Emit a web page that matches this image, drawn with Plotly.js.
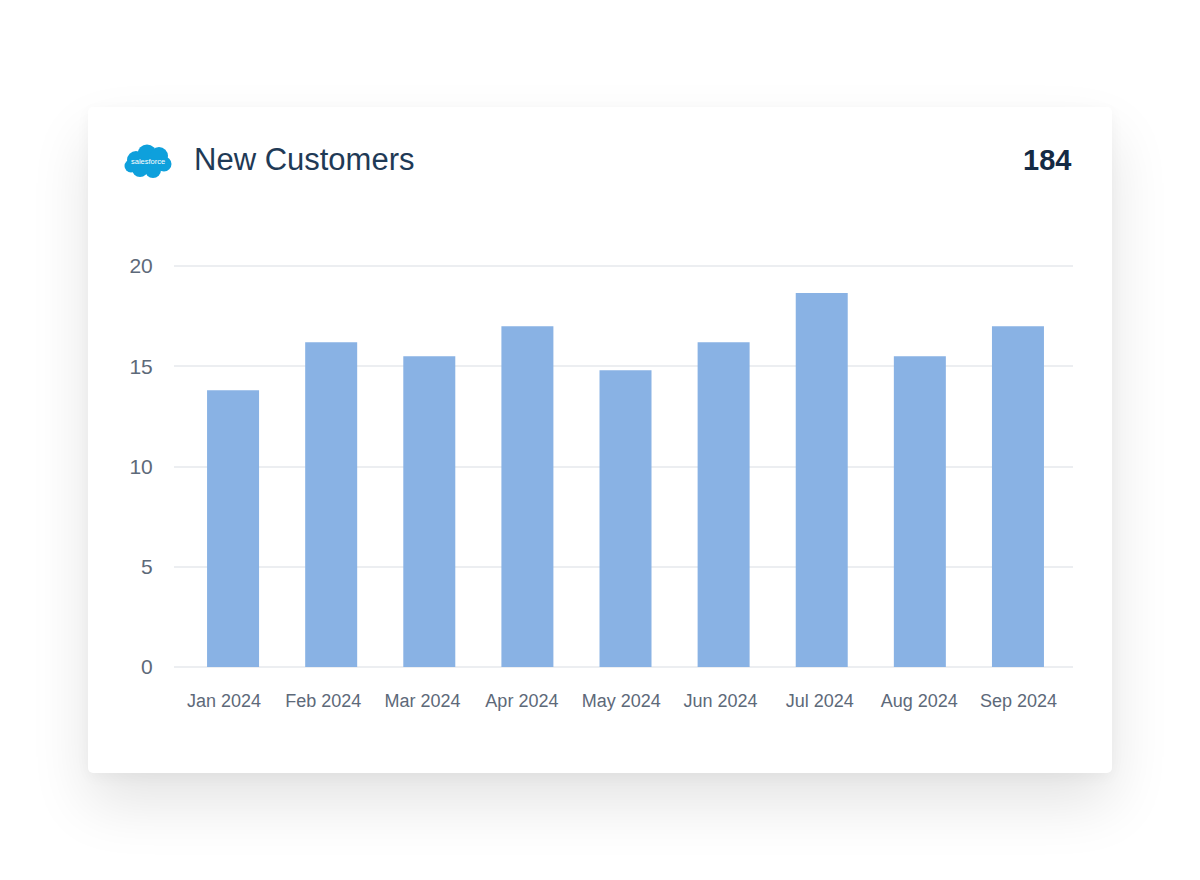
<!DOCTYPE html>
<html>
<head>
<meta charset="utf-8">
<script src="https://cdn.plot.ly/plotly-3.0.1.min.js"></script>
<style>
  html, body { margin:0; padding:0; background:#ffffff; }
  #card {
    position:absolute; left:88px; top:107px; width:1024px; height:666px;
    background:#ffffff; border-radius:5px;
    box-shadow: 0 30px 60px rgba(0,0,0,0.11), 0 4px 14px rgba(0,0,0,0.04);
  }
  #chart { position:absolute; left:0; top:0; width:1200px; height:880px; }
</style>
</head>
<body>
<div id="card"></div>
<div id="chart"></div>
<script>
// data
var months = ['Jan 2024','Feb 2024','Mar 2024','Apr 2024','May 2024','Jun 2024','Jul 2024','Aug 2024','Sep 2024']
var customers = [13.8, 16.2, 15.5, 17.0, 14.8, 16.2, 18.65, 15.5, 17.0]
var total_label = '184'
var y_ticks = [0, 5, 10, 15, 20]

// plot box in page pixels (top sits a bit above the 20 line so that line is drawn)
var L=174, R=1073, T=258, B=667
function px(x){ return (x-L)/(R-L) }
function py(y){ return (B-y)/(B-T) }

var bar_color = '#89b2e4'
var text_dark = '#1f3a56'
var tick_color = '#5d6979'
var grid_color = '#eceef1'

var trace = {
  x: months,
  y: customers,
  type: 'bar',
  marker: {color: bar_color},
  hoverinfo: 'x+y'
}

// label-only axis, the labels sit on a slightly wider spacing than the bars
var labels_trace = {
  x: months,
  y: customers,
  xaxis: 'x2',
  type: 'scatter',
  mode: 'none',
  hoverinfo: 'skip'
}

// salesforce cloud made of circles
var cloud = [[136,160,9],[147,154,9.5],[159,156,9],[164,164,7.5],[153,170,8],[140,169,8],[131,166,6.5]]
var shapes = cloud.map(function(c){
  return {
    type:'circle', xref:'paper', yref:'paper', layer:'above',
    x0:px(c[0]-c[2]), x1:px(c[0]+c[2]), y0:py(c[1]+c[2]), y1:py(c[1]-c[2]),
    fillcolor:'#0ea0dc', line:{width:0}
  }
})
shapes.push({
  type:'rect', xref:'paper', yref:'paper', layer:'above',
  x0:px(133), x1:px(160), y0:py(170), y1:py(154),
  fillcolor:'#0ea0dc', line:{width:0}
})

var annotations = [
  {text:'salesforce', x:px(147.5), y:py(161.5), xref:'paper', yref:'paper', xanchor:'center', yanchor:'middle',
   showarrow:false, font:{family:'Liberation Sans, Arial', size:7.5, color:'#ffffff'}},
  {text:'New Customers', x:px(192), y:py(160), xref:'paper', yref:'paper', xanchor:'left', yanchor:'middle',
   showarrow:false, font:{family:'Liberation Sans, Arial, sans-serif', size:31, color:text_dark}},
  {text:'<b>'+total_label+'</b>', x:px(1073), y:py(160), xref:'paper', yref:'paper', xanchor:'right', yanchor:'middle',
   showarrow:false, font:{family:'Liberation Sans, Arial, sans-serif', size:29, color:'#142a44'}}
]

var layout = {
  width:1200, height:880,
  margin:{l:L, r:1200-R, t:T, b:880-B, pad:0},
  paper_bgcolor:'rgba(0,0,0,0)',
  plot_bgcolor:'rgba(0,0,0,0)',
  showlegend:false,
  bargap:0.47,
  font:{family:'Liberation Sans, Arial, sans-serif', color:tick_color},
  xaxis:{
    range:[-0.602, 8.561],
    showgrid:false, zeroline:false, showline:false,
    showticklabels:false, ticks:''
  },
  xaxis2:{
    overlaying:'x', side:'bottom', anchor:'y',
    range:[-0.503, 8.549],
    showgrid:false, zeroline:false, showline:false,
    ticks:'outside', ticklen:17, tickcolor:'rgba(0,0,0,0)',
    tickfont:{size:18, color:tick_color}
  },
  yaxis:{
    range:[0, 20.4], tickvals:y_ticks,
    showgrid:true, gridcolor:grid_color, gridwidth:2,
    zeroline:true, zerolinecolor:grid_color, zerolinewidth:2,
    showline:false,
    ticks:'outside', ticklen:16, tickcolor:'rgba(0,0,0,0)',
    tickfont:{size:21, color:tick_color}
  },
  shapes:shapes,
  annotations:annotations
}

Plotly.newPlot('chart', [trace, labels_trace], layout, {displayModeBar:false})
</script>
</body>
</html>
